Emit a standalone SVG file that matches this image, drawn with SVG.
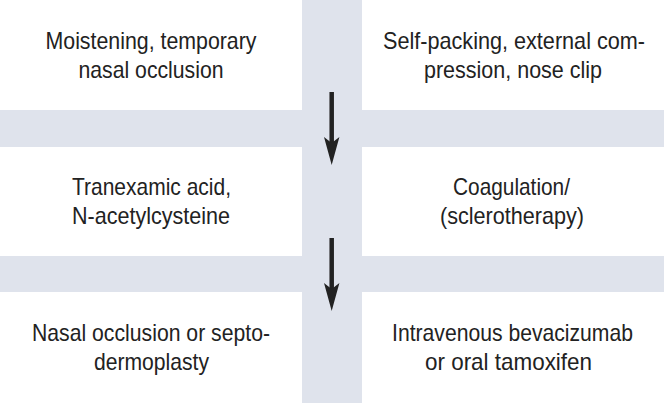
<svg xmlns="http://www.w3.org/2000/svg" width="664" height="403" viewBox="0 0 664 403">
  <style>
    .box { fill: #ffffff; }
    .lbl { font-family: "Liberation Sans", Arial, sans-serif; font-size: 24px; fill: #222222; text-anchor: middle; }
    .conn { stroke: #222222; stroke-width: 4.5; fill: none; }
  </style>
  <defs>
    <marker id="ah" markerUnits="userSpaceOnUse" markerWidth="30" markerHeight="20" viewBox="0 -10 30 20" refX="13" refY="0" orient="auto">
      <path d="M0,-7.7 L28,0 L0,7.7 L6,0 Z" fill="#222222"/>
    </marker>
  </defs>
  <rect x="0" y="0" width="664" height="403" fill="#dfe3ec"/>

  <g id="n1">
    <rect class="box" x="0" y="0" width="302" height="110"/>
    <text class="lbl" x="151" y="49" textLength="211" lengthAdjust="spacingAndGlyphs">Moistening, temporary</text>
    <text class="lbl" x="151" y="78" textLength="145" lengthAdjust="spacingAndGlyphs">nasal occlusion</text>
  </g>
  <g id="n2">
    <rect class="box" x="362" y="0" width="302" height="110"/>
    <text class="lbl" x="514" y="49" textLength="262" lengthAdjust="spacingAndGlyphs">Self-packing, external com-</text>
    <text class="lbl" x="513" y="78" textLength="178" lengthAdjust="spacingAndGlyphs">pression, nose clip</text>
  </g>
  <g id="n3">
    <rect class="box" x="0" y="147" width="302" height="109"/>
    <text class="lbl" x="151.5" y="195" textLength="159" lengthAdjust="spacingAndGlyphs">Tranexamic acid,</text>
    <text class="lbl" x="151" y="224" textLength="158" lengthAdjust="spacingAndGlyphs">N-acetylcysteine</text>
  </g>
  <g id="n4">
    <rect class="box" x="362" y="147" width="302" height="109"/>
    <text class="lbl" x="511.5" y="195" textLength="117" lengthAdjust="spacingAndGlyphs">Coagulation/</text>
    <text class="lbl" x="512" y="224" textLength="144" lengthAdjust="spacingAndGlyphs">(sclerotherapy)</text>
  </g>
  <g id="n5">
    <rect class="box" x="0" y="292" width="302" height="111"/>
    <text class="lbl" x="151" y="341" textLength="238" lengthAdjust="spacingAndGlyphs">Nasal occlusion or septo-</text>
    <text class="lbl" x="151.5" y="370" textLength="115" lengthAdjust="spacingAndGlyphs">dermoplasty</text>
  </g>
  <g id="n6">
    <rect class="box" x="362" y="292" width="302" height="111"/>
    <text class="lbl" x="512.5" y="341" textLength="241" lengthAdjust="spacingAndGlyphs">Intravenous bevacizumab</text>
    <text class="lbl" x="508.5" y="370" textLength="167" lengthAdjust="spacingAndGlyphs">or oral tamoxifen</text>
  </g>

  <g id="connectors">
    <line class="conn" x1="331.7" y1="92" x2="331.7" y2="150" marker-end="url(#ah)"/>
    <line class="conn" x1="331.7" y1="238" x2="331.7" y2="296" marker-end="url(#ah)"/>
  </g>
</svg>
